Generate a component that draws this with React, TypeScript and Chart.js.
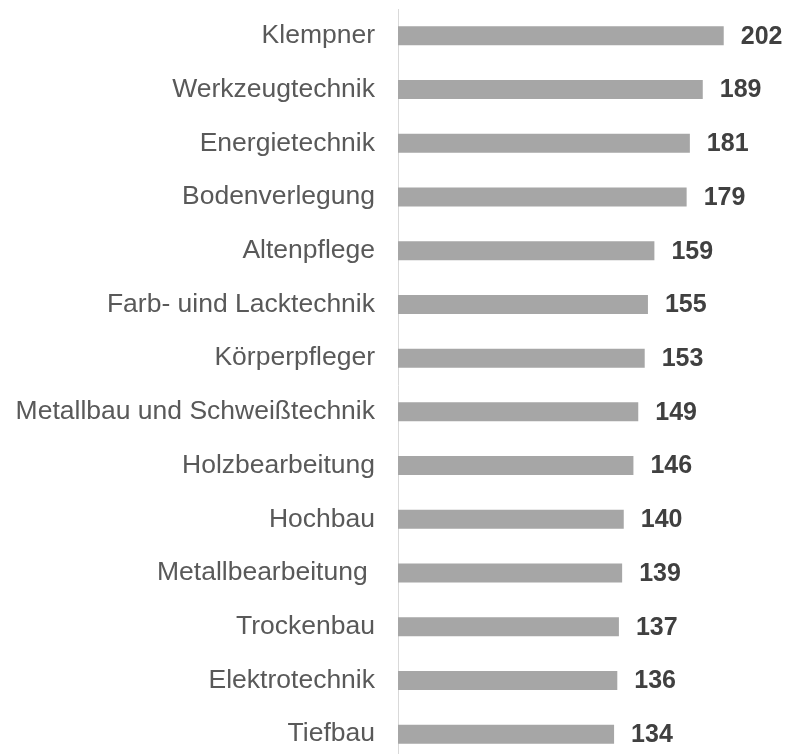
import React, { useEffect, useRef } from "react";
import { Chart, registerables } from "chart.js";

Chart.register(...registerables);

const categories = [
  "Klempner",
  "Werkzeugtechnik",
  "Energietechnik",
  "Bodenverlegung",
  "Altenpflege",
  "Farb- uind Lacktechnik",
  "Körperpfleger",
  "Metallbau und Schweißtechnik",
  "Holzbearbeitung",
  "Hochbau",
  "Metallbearbeitung ",
  "Trockenbau",
  "Elektrotechnik",
  "Tiefbau",
];
const values = [202, 189, 181, 179, 159, 155, 153, 149, 146, 140, 139, 137, 136, 134];

const valueLabels = {
  id: "valueLabels",
  afterDatasetsDraw(chart: any) {
    const ctx = chart.ctx;
    const meta = chart.getDatasetMeta(0);
    ctx.save();
    ctx.font = "bold 25px 'Liberation Sans', Arial, sans-serif";
    ctx.fillStyle = "#404040";
    ctx.textAlign = "left";
    ctx.textBaseline = "middle";
    meta.data.forEach((el: any, i: number) => {
      ctx.fillText(String(values[i]), el.x + 17, el.y + 1);
    });
    ctx.restore();
  },
};

export default function App() {
  const ref = useRef<HTMLCanvasElement>(null);
  useEffect(() => {
    document.body.style.margin = "0";
    document.body.style.overflow = "hidden";
    const chart = new Chart(ref.current!, {
      type: "bar",
      data: {
        labels: categories,
        datasets: [
          {
            data: values,
            backgroundColor: "#a6a6a6",
            borderWidth: 0,
            categoryPercentage: 1,
            barPercentage: 0.354,
          },
        ],
      },
      options: {
        indexAxis: "y",
        animation: false,
        responsive: false,
        maintainAspectRatio: false,
        layout: { padding: { top: 9, bottom: 1, right: 2, left: 0 } },
        plugins: { legend: { display: false }, tooltip: { enabled: false } },
        scales: {
          x: { display: false, min: 0, max: 240 },
          y: {
            grid: { display: false, drawTicks: false },
            border: { display: true, color: "#d9d9d9", width: 1 },
            ticks: {
              padding: 23,
              color: "#595959",
              font: { family: "'Liberation Sans', Arial, sans-serif", size: 26.5 },
            },
            afterFit(scale: any) {
              scale.width = 398;
              scale.paddingTop = 0;
              scale.paddingBottom = 0;
            },
          },
        },
      },
      plugins: [valueLabels],
    });
    return () => chart.destroy();
  }, []);
  return (
    <div style={{ position: "fixed", left: 0, top: 0, width: 787, height: 754, overflow: "hidden" }}>
      <canvas ref={ref} width={787} height={762} style={{ display: "block" }} />
    </div>
  );
}
